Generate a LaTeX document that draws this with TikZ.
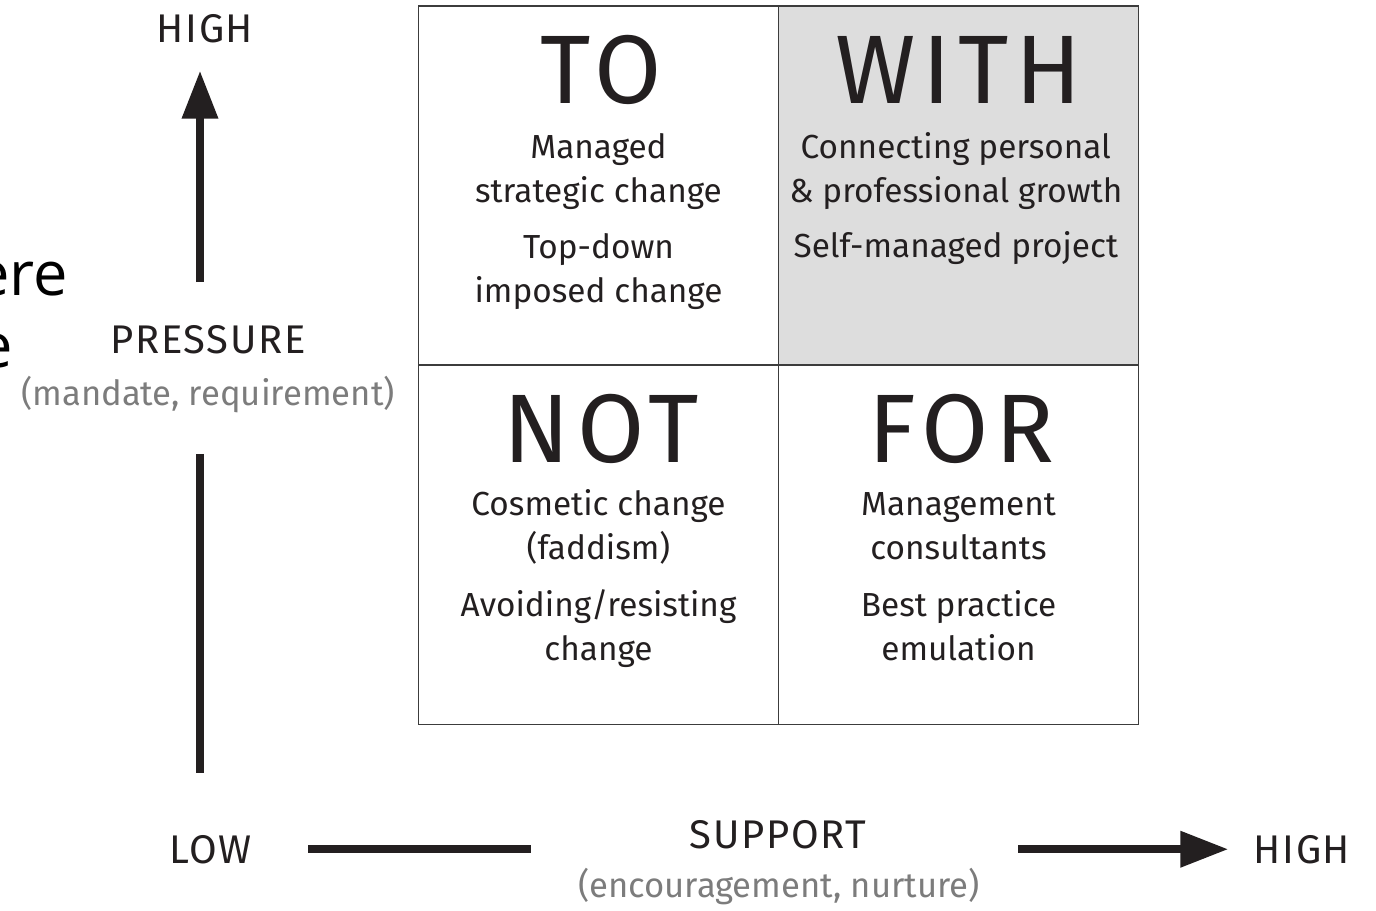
\documentclass[tikz,border=0pt]{standalone}
\usepackage{fontspec}
\setmainfont{Fira Sans}
\newfontfamily\sidefont{Open Sans}
\usetikzlibrary{arrows.meta}

\definecolor{ink}{HTML}{231F20}
\definecolor{rule}{HTML}{3C3C3C}
\definecolor{shade}{HTML}{DDDDDD}
\definecolor{note}{HTML}{7C7C7C}

\begin{document}
\begin{tikzpicture}[
    x=0.75pt, y=-0.75pt,
    cell/.style={draw=rule, line width=1.2pt, minimum width=270pt, minimum height=269pt, inner sep=0pt},
    title/.style={anchor=base, inner sep=0pt, text=ink, font=\fontsize{73}{73}\selectfont\addfontfeature{LetterSpace=7}},
    body/.style={anchor=base, inner sep=0pt, align=center, text=ink, font=\fontsize{25}{33}\selectfont},
    axlabel/.style={anchor=base, inner sep=0pt, text=ink, font=\fontsize{30}{30}\selectfont\addfontfeature{LetterSpace=4}},
    note/.style={anchor=base, inner sep=0pt, text=note, font=\fontsize{26}{26}\selectfont},
    axis/.style={line width=6pt, draw=ink},
    axarrow/.style={axis, -{Triangle[length=36pt 0, width=26pt 0]}}
]
\useasboundingbox (0,0) rectangle (1376,910);

% the four quadrants
\node[cell] (qto) at (598.5,185.5) {};
\node[cell, fill=shade] (qwith) at (958.5,185.5) {};
\node[cell] (qnot) at (598.5,545) {};
\node[cell] (qfor) at (958.5,545) {};

% base of a two-line block is its last line
\node[title] (tto) at ([xshift=2pt, yshift=-73.5pt]qto.north) {TO};
\node[body] (to1) at ([yshift=-148pt]qto.north) {Managed\\strategic change};
\node[body] (to2) at ([yshift=-223pt]qto.north) {Top-down\\imposed change};

\node[title] (twith) at ([yshift=-73.5pt]qwith.north) {WITH};
\node[body] (with1) at ([xshift=-2pt, yshift=-148pt]qwith.north) {Connecting personal\\\& professional growth};
\node[body] (with2) at ([xshift=-2pt, yshift=-189pt]qwith.north) {Self-managed project};

\node[title] (tnot) at ([xshift=2pt, yshift=-73pt]qnot.north) {NOT};
\node[body] (not1) at ([yshift=-146pt]qnot.north) {Cosmetic change\\(faddism)};
\node[body] (not2) at ([yshift=-222pt]qnot.north) {Avoiding/resisting\\change};

\node[title] (tfor) at ([xshift=2pt, yshift=-73pt]qfor.north) {FOR};
\node[body] (for1) at ([yshift=-146pt]qfor.north) {Management\\consultants};
\node[body] (for2) at ([yshift=-222pt]qfor.north) {Best practice\\emulation};

% pressure axis
\node[axlabel] (phigh) at (205,42) {HIGH};
\node[axlabel] (press) at (208,353) {PRESSURE};
\node[note] (mand) at (208,405) {(mandate, requirement)};
\node[axlabel] (low) at (211,863) {LOW};
\draw[axarrow, shorten <=32pt, shorten >=21pt] ([xshift=-6pt]press.north) -- ([xshift=-3.75pt]phigh.south);
\draw[axis, shorten <=31pt, shorten >=46pt] ([xshift=-6pt]mand.south) -- ([xshift=-8.25pt]low.north);

% support axis
\node[axlabel] (supp) at (778,848) {SUPPORT};
\node[note] (enc) at (779,897) {(encouragement, nurture)};
\node[axlabel] (shigh) at (1302,863) {HIGH};
\draw[axis, shorten <=42pt, shorten >=119pt] (low.east) -- (low.east -| supp.west);
\draw[axarrow, shorten <=114pt, shorten >=19pt] (low.east -| supp.east) -- (low.east -| shigh.west);

% cut-off text at the left edge
\begin{scope}
\clip (0,0) rectangle (1376,910);
\node[anchor=base east, inner sep=0pt, font=\sidefont\fontsize{46}{46}\selectfont] (frag1) at (68,295) {ere};
\node[anchor=base east, inner sep=0pt, font=\sidefont\fontsize{46}{46}\selectfont] (frag2) at (13,367) {e};
\end{scope}
\end{tikzpicture}
\end{document}
